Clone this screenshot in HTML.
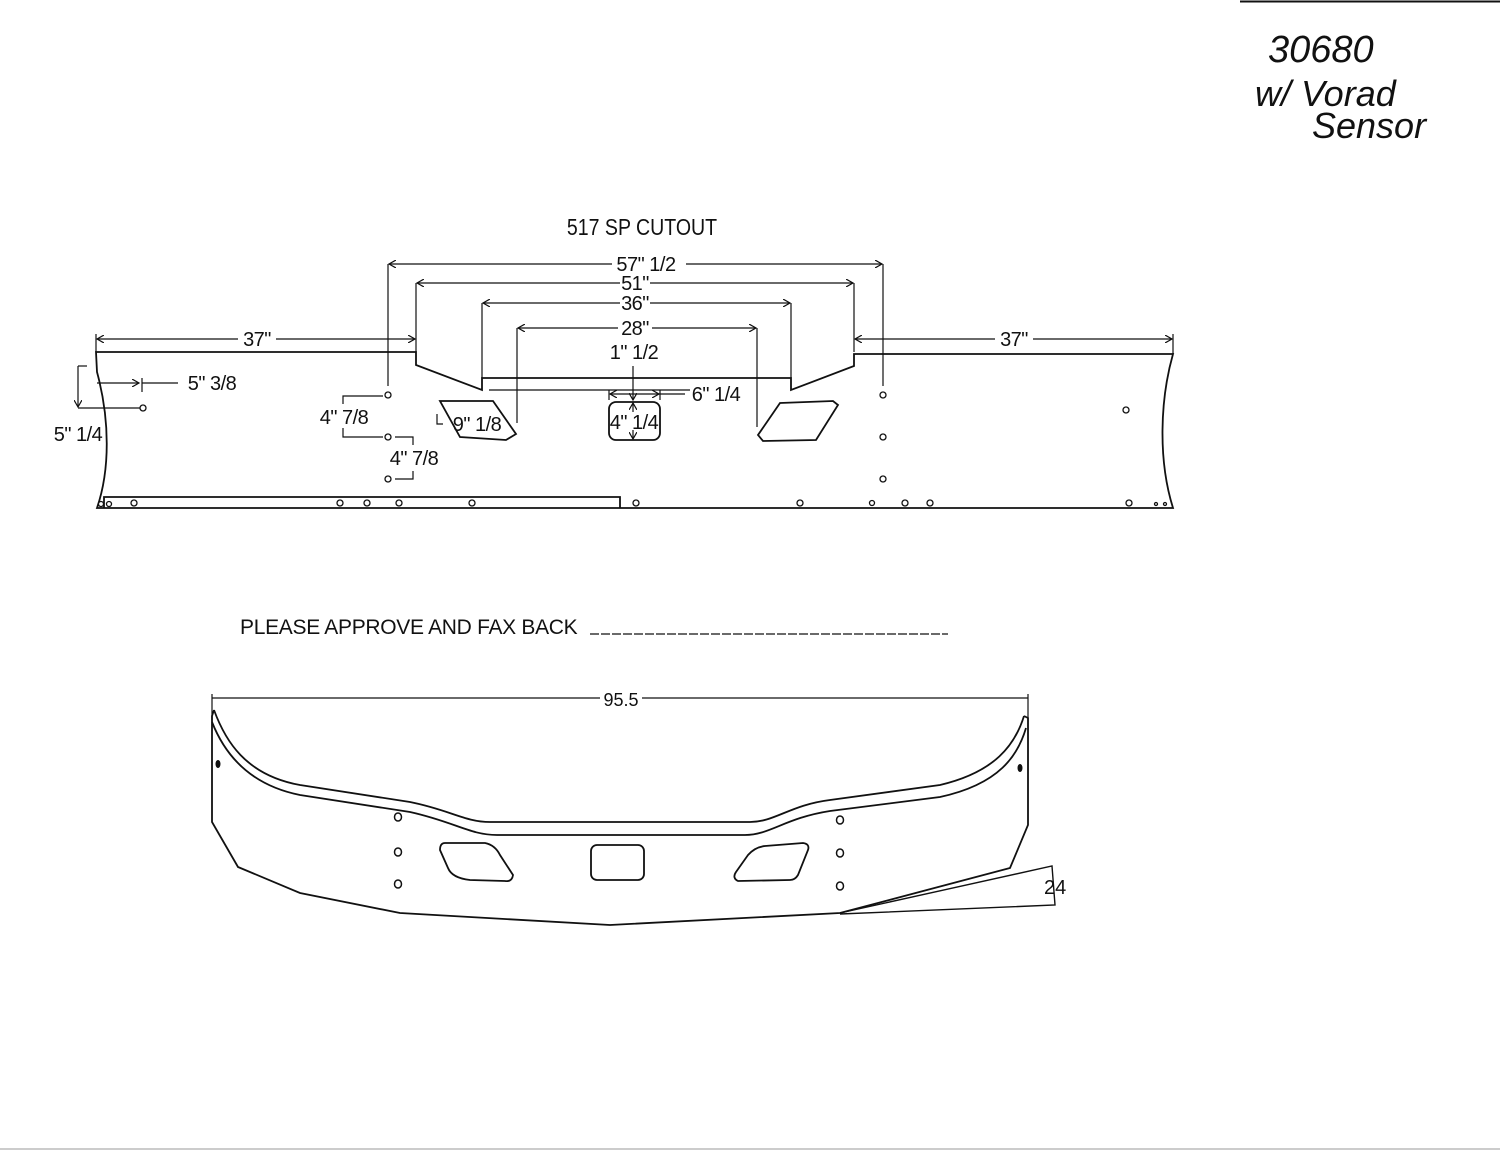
<!DOCTYPE html>
<html><head><meta charset="utf-8"><style>
html,body{margin:0;padding:0;background:#fff;}
svg{display:block;}
text{font-family:"Liberation Sans",sans-serif;fill:#111;}
.d{font-size:20px;letter-spacing:-0.5px;}
</style></head><body>
<svg width="1500" height="1153" viewBox="0 0 1500 1153" xmlns="http://www.w3.org/2000/svg">
<defs>
<marker id="a" markerWidth="8" markerHeight="8" refX="7" refY="4" orient="auto" markerUnits="userSpaceOnUse"><path d="M0,0 L7,4 L0,8" fill="none" stroke="#111" stroke-width="1.2"/></marker>
</defs>
<line x1="1240" y1="1.5" x2="1500" y2="1.5" stroke="#111" stroke-width="2"/>
<line x1="0" y1="1149" x2="1500" y2="1149" stroke="#ccc" stroke-width="2"/>
<g font-family="'Liberation Sans',sans-serif" fill="#111">
<text x="1268" y="62" font-size="38" style="font-style:italic">30680</text>
<text x="1255" y="106" font-size="36" style="font-style:italic">w/ Vorad</text>
<text x="1312" y="138" font-size="36" style="font-style:italic">Sensor</text>
</g>

<text x="642" y="235" font-size="23" text-anchor="middle" transform="translate(642 0) scale(0.85 1) translate(-642 0)">517 SP CUTOUT</text>

<g stroke="#111" stroke-width="1.8" fill="none">
<path d="M96,352 L416,352 L416,365 L482,390 L482,378 L791,378 L791,390 L854,366 L854,354 L1173,354 C1160,400 1158,460 1173,508 L97,508 C110,470 110,420 97,372 Z"/>
<path d="M104,508 L104,497 L620,497 L620,508"/>
<line x1="489" y1="390" x2="690" y2="390" stroke-width="1.3"/>
<path d="M440,401 L493,401 L516,434 L506,440 L460,437 Z"/>
<path d="M780,403 L833,401 L838,405 L816,440 L763,441 L758,435 Z"/>
<rect x="609" y="402" width="51" height="38" rx="7"/>
</g>

<g stroke="#111" stroke-width="1.2" fill="none">
<line x1="388" y1="264" x2="388" y2="386"/>
<line x1="883" y1="264" x2="883" y2="386"/>
<line x1="416" y1="283" x2="416" y2="352"/>
<line x1="854" y1="283" x2="854" y2="352"/>
<line x1="482" y1="303" x2="482" y2="378"/>
<line x1="791" y1="303" x2="791" y2="378"/>
<line x1="517" y1="328" x2="517" y2="423"/>
<line x1="757" y1="328" x2="757" y2="427"/>
<line x1="96" y1="334" x2="96" y2="352"/>
<line x1="1173" y1="334" x2="1173" y2="354"/>
<line x1="612" y1="264" x2="389" y2="264" marker-end="url(#a)"/>
<line x1="686" y1="264" x2="882" y2="264" marker-end="url(#a)"/>
<line x1="620" y1="283" x2="417" y2="283" marker-end="url(#a)"/>
<line x1="650" y1="283" x2="853" y2="283" marker-end="url(#a)"/>
<line x1="620" y1="303" x2="483" y2="303" marker-end="url(#a)"/>
<line x1="650" y1="303" x2="790" y2="303" marker-end="url(#a)"/>
<line x1="618" y1="328" x2="518" y2="328" marker-end="url(#a)"/>
<line x1="652" y1="328" x2="756" y2="328" marker-end="url(#a)"/>
<line x1="238" y1="339" x2="97" y2="339" marker-end="url(#a)"/>
<line x1="276" y1="339" x2="415" y2="339" marker-end="url(#a)"/>
<line x1="995" y1="339" x2="855" y2="339" marker-end="url(#a)"/>
<line x1="1033" y1="339" x2="1172" y2="339" marker-end="url(#a)"/>
<line x1="633" y1="366" x2="633" y2="400" marker-end="url(#a)"/>
<line x1="634" y1="394" x2="610" y2="394" marker-end="url(#a)"/>
<line x1="634" y1="394" x2="659" y2="394" marker-end="url(#a)"/>
<line x1="659" y1="394" x2="685" y2="394"/>
<line x1="609" y1="390" x2="609" y2="400"/>
<line x1="660" y1="390" x2="660" y2="400"/>
<line x1="633" y1="412" x2="633" y2="403" marker-end="url(#a)"/>
<line x1="633" y1="430" x2="633" y2="439" marker-end="url(#a)"/>
<line x1="97" y1="383" x2="139" y2="383" marker-end="url(#a)"/>
<line x1="142" y1="378" x2="142" y2="392"/>
<line x1="142" y1="383" x2="178" y2="383"/>
<line x1="78" y1="408" x2="142" y2="408"/>
<line x1="78" y1="366" x2="87" y2="366"/>
<line x1="78" y1="366" x2="78" y2="407" marker-end="url(#a)"/>
<path d="M383,396 L343,396 L343,404"/>
<path d="M383,437 L343,437 L343,428"/>
<path d="M395,437 L413,437 L413,445"/>
<path d="M395,479 L413,479 L413,471"/>
<path d="M437,414 L437,424 L443,424"/>
</g>

<g fill="#fff" stroke="#111" stroke-width="1.3">
<circle cx="388" cy="395" r="3"/><circle cx="388" cy="437" r="3"/><circle cx="388" cy="479" r="3"/>
<circle cx="883" cy="395" r="3"/><circle cx="883" cy="437" r="3"/><circle cx="883" cy="479" r="3"/>
<circle cx="1126" cy="410" r="3"/><circle cx="143" cy="408" r="3"/>
<circle cx="101" cy="504" r="2.5"/><circle cx="109" cy="504" r="2.5"/><circle cx="134" cy="503" r="3"/>
<circle cx="340" cy="503" r="3"/><circle cx="367" cy="503" r="3"/><circle cx="399" cy="503" r="3"/>
<circle cx="472" cy="503" r="3"/><circle cx="636" cy="503" r="3"/><circle cx="800" cy="503" r="3"/>
<circle cx="872" cy="503" r="2.5"/><circle cx="905" cy="503" r="3"/><circle cx="930" cy="503" r="3"/>
<circle cx="1129" cy="503" r="3"/><circle cx="1156" cy="504" r="1.5"/><circle cx="1165" cy="504" r="1.5"/>
</g>

<g class="d" text-anchor="middle">
<text x="646" y="271">57" 1/2</text>
<text x="635" y="290">51"</text>
<text x="635" y="310">36"</text>
<text x="635" y="335">28"</text>
<text x="257" y="346">37"</text>
<text x="1014" y="346">37"</text>
<text x="634" y="359">1" 1/2</text>
<text x="716" y="401">6" 1/4</text>
<text x="634" y="429">4" 1/4</text>
<text x="477" y="431">9" 1/8</text>
<text x="212" y="390">5" 3/8</text>
<text x="78" y="441">5" 1/4</text>
<text x="344" y="424">4" 7/8</text>
<text x="414" y="465">4" 7/8</text>
</g>

<text x="240" y="634" font-size="21" letter-spacing="-0.3">PLEASE APPROVE AND FAX BACK</text>
<line x1="590" y1="634" x2="948" y2="634" stroke="#111" stroke-width="1.2" stroke-dasharray="9,2"/>

<g stroke="#111" stroke-width="1.8" fill="none">
<path d="M214,710 C225,740 245,775 300,785 L410,802 C450,810 465,822 490,822 L750,822 C775,822 790,805 830,800 L940,785 C995,772 1015,745 1024,716"/>
<path d="M212,722 C225,755 250,785 300,795 L410,812 C455,822 470,835 497,835 L745,835 C770,835 785,818 830,811 L940,797 C1000,784 1018,755 1026,728"/>
<path d="M214,710 L212,716 L212,822 L238,867 L300,893 L400,913 L610,925 L840,913 L1010,868 L1028,825 L1028,718 L1024,716"/>
<path d="M445,843 L485,843 Q495,845 500,855 L513,875 Q512,882 505,881 L470,880 Q452,878 448,868 L440,850 Q440,843 445,843 Z"/>
<path d="M765,846 L803,843 Q810,844 808,850 L798,875 Q795,880 790,880 L738,881 Q732,878 736,872 L748,855 Q755,847 765,846 Z"/>
<rect x="591" y="845" width="53" height="35" rx="6"/>
<path d="M840,913 L1052,866 L1055,905 L840,914" stroke-width="1.4"/>
</g>
<g stroke="#111" stroke-width="1.2">
<line x1="212" y1="694" x2="212" y2="720"/>
<line x1="1028" y1="694" x2="1028" y2="720"/>
<line x1="212" y1="698" x2="600" y2="698"/>
<line x1="642" y1="698" x2="1028" y2="698"/>
</g>
<text x="621" y="706" font-size="18" text-anchor="middle">95.5</text>
<text x="1044" y="894" font-size="20">24</text>
<g fill="#fff" stroke="#111" stroke-width="1.5">
<ellipse cx="398" cy="817" rx="3.5" ry="4"/><ellipse cx="398" cy="852" rx="3.5" ry="4"/><ellipse cx="398" cy="884" rx="3.5" ry="4"/>
<ellipse cx="840" cy="820" rx="3.5" ry="4"/><ellipse cx="840" cy="853" rx="3.5" ry="4"/><ellipse cx="840" cy="886" rx="3.5" ry="4"/>
</g>
<ellipse cx="218" cy="764" rx="2.5" ry="4" fill="#111"/>
<ellipse cx="1020" cy="768" rx="2.5" ry="4" fill="#111"/>
</svg>
</body></html>
